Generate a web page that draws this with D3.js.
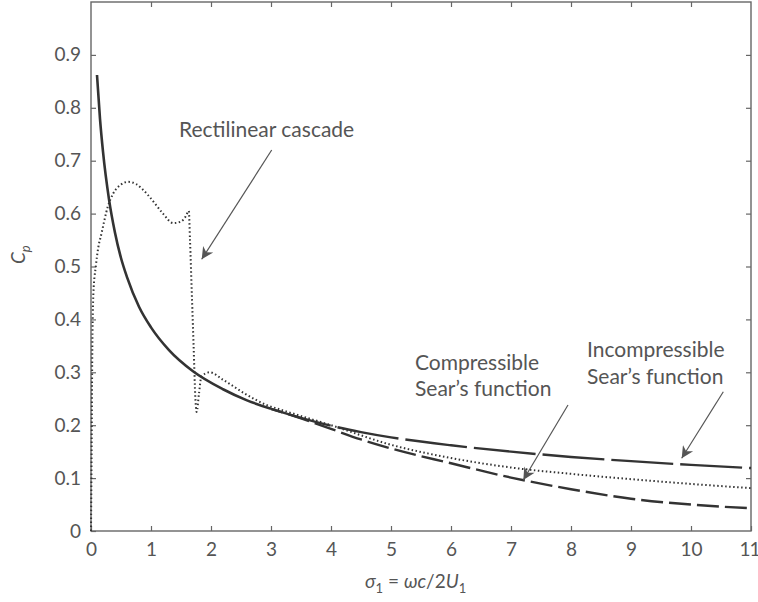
<!DOCTYPE html>
<html>
<head>
<meta charset="utf-8">
<script src="https://cdn.jsdelivr.net/npm/d3@7"></script>
<style>
  html, body { margin: 0; padding: 0; background: #fff; }
  svg { display: block; }
  .tick text { font-family: Lato, "Open Sans", sans-serif; font-size: 19px; fill: #555; }
  .ann { font-family: Lato, "Open Sans", sans-serif; font-size: 21px; fill: #555; }
  .axt { font-family: Lato, "Open Sans", sans-serif; font-size: 19px; fill: #555; }
</style>
</head>
<body>
<svg id="chart" width="758" height="602"></svg>
<script>
// Pressure coefficient response vs reduced frequency
const xTicks = [0, 1, 2, 3, 4, 5, 6, 7, 8, 9, 10, 11];
const yTicks = [0, 0.1, 0.2, 0.3, 0.4, 0.5, 0.6, 0.7, 0.8, 0.9];

// Incompressible Sears function (long dashes)
const incompX = [0.1, 0.15, 0.2, 0.3, 0.4, 0.5, 0.6, 0.8, 1.0, 1.3, 1.7, 2.2, 2.6, 3.0, 3.5, 4.0, 4.5, 5.0, 6.0, 7.0, 8.0, 9.0, 10.0, 11.0];
const incompY = [0.862, 0.779, 0.717, 0.627, 0.564, 0.516, 0.480, 0.424, 0.385, 0.342, 0.302, 0.268, 0.247, 0.231, 0.214, 0.199, 0.187, 0.177, 0.162, 0.150, 0.140, 0.132, 0.125, 0.119];

// Compressible Sears function (short dashes)
const compX = [0.1, 0.15, 0.2, 0.3, 0.4, 0.5, 0.6, 0.8, 1.0, 1.3, 1.7, 2.2, 2.6, 3.0, 3.5, 4.0, 4.5, 5.0, 6.0, 7.0, 8.0, 9.0, 10.0, 11.0];
const compY = [0.862, 0.779, 0.717, 0.627, 0.564, 0.516, 0.480, 0.424, 0.385, 0.342, 0.302, 0.268, 0.247, 0.231, 0.213, 0.193, 0.173, 0.156, 0.128, 0.101, 0.079, 0.061, 0.050, 0.043];

// Rectilinear cascade (dotted)
const cascX = [0.0, 0.01, 0.02, 0.04, 0.08, 0.12, 0.17, 0.28, 0.37, 0.5, 0.62, 0.75, 0.84, 0.95, 1.06, 1.2, 1.37, 1.5, 1.58, 1.63, 1.65, 1.68, 1.71, 1.74, 1.76, 1.8, 1.84, 1.98, 2.2, 2.56, 2.93, 3.2, 4.0, 5.0, 6.0, 7.0, 8.0, 9.0, 10.0, 11.0];
const cascY = [0.0, 0.15, 0.32, 0.45, 0.50, 0.535, 0.56, 0.613, 0.638, 0.655, 0.66, 0.656, 0.648, 0.635, 0.62, 0.60, 0.582, 0.585, 0.595, 0.605, 0.55, 0.45, 0.35, 0.25, 0.225, 0.26, 0.292, 0.30, 0.286, 0.26, 0.238, 0.228, 0.200, 0.163, 0.138, 0.120, 0.108, 0.098, 0.089, 0.081];

const svg = d3.select("#chart");
const plotL = 91, plotR = 751, plotT = 2, plotB = 531;

const x = d3.scaleLinear().domain([0, 11]).range([plotL, plotR]);
const y = d3.scaleLinear().domain([0, 1]).range([plotB, plotT]);

const axisColor = "#666";
const lineColor = "#333";

// Frame
svg.append("rect")
  .attr("x", plotL).attr("y", plotT)
  .attr("width", plotR - plotL).attr("height", plotB - plotT)
  .attr("fill", "none").attr("stroke", axisColor).attr("stroke-width", 1.4);

const fmtY = d => d === 0 ? "0" : d3.format(".1f")(d);

function styleAxis(g) {
  g.select(".domain").remove();
  g.selectAll(".tick line").attr("stroke", axisColor).attr("stroke-width", 1.2);
}

// Bottom axis with inward ticks
const gx = svg.append("g").attr("transform", `translate(0,${plotB})`)
  .call(d3.axisBottom(x).tickValues(xTicks).tickFormat(d3.format("d")).tickSizeInner(-5).tickSizeOuter(0).tickPadding(12))
  .call(styleAxis);
// last label sits flush against the right edge of the frame
gx.selectAll(".tick text").filter(d => d === 11)
  .attr("text-anchor", "end").attr("dx", 8).attr("letter-spacing", -1);
// Top axis: ticks only
svg.append("g").attr("transform", `translate(0,${plotT})`)
  .call(d3.axisTop(x).tickValues(xTicks.slice(1, -1)).tickFormat("").tickSizeInner(-5).tickSizeOuter(0))
  .call(styleAxis);
// Left axis
svg.append("g").attr("transform", `translate(${plotL},0)`)
  .call(d3.axisLeft(y).tickValues(yTicks).tickFormat(fmtY).tickSizeInner(-5).tickSizeOuter(0).tickPadding(10))
  .call(styleAxis);
// Right axis: ticks only
svg.append("g").attr("transform", `translate(${plotR},0)`)
  .call(d3.axisRight(y).tickValues(yTicks.slice(1)).tickFormat("").tickSizeInner(-5).tickSizeOuter(0))
  .call(styleAxis);

const line = d3.line().x(d => x(d[0])).y(d => y(d[1])).curve(d3.curveMonotoneX);
const zip = (a, b) => a.map((v, i) => [v, b[i]]);

const incomp = zip(incompX, incompY);
const comp = zip(compX, compY);

// Where the two Sears curves coincide they read as one solid line
const nShared = incompY.findIndex((v, i) => v !== compY[i]);
svg.append("path").datum(incomp.slice(0, nShared))
  .attr("d", line).attr("fill", "none").attr("stroke", lineColor)
  .attr("stroke-width", 2.6);

svg.append("path").datum(incomp.slice(nShared - 1))
  .attr("d", line).attr("fill", "none").attr("stroke", lineColor)
  .attr("stroke-width", 2.4).attr("stroke-dasharray", "62,7");

svg.append("path").datum(comp.slice(nShared - 1))
  .attr("d", line).attr("fill", "none").attr("stroke", lineColor)
  .attr("stroke-width", 2.4).attr("stroke-dasharray", "22,6").attr("stroke-dashoffset", 10);

svg.append("path").datum(zip(cascX, cascY))
  .attr("d", line).attr("fill", "none").attr("stroke", lineColor)
  .attr("stroke-width", 2).attr("stroke-dasharray", "1.5,2.5");

// Arrow marker
svg.append("defs").append("marker")
  .attr("id", "arrow").attr("viewBox", "0 0 10 10")
  .attr("refX", 10).attr("refY", 5)
  .attr("markerWidth", 16).attr("markerHeight", 12)
  .attr("markerUnits", "userSpaceOnUse")
  .attr("orient", "auto")
  .append("path").attr("d", "M0,0 L10,5 L0,10 L3,5 Z").attr("fill", "#555");

const arrows = [
  { x1: 271.7, y1: 150, x2: 201.7, y2: 259.3 },
  { x1: 568, y1: 405, x2: 523.3, y2: 480 },
  { x1: 723.3, y1: 391.7, x2: 681.7, y2: 458.3 }
];
svg.selectAll(".arr").data(arrows).join("line")
  .attr("x1", d => d.x1).attr("y1", d => d.y1)
  .attr("x2", d => d.x2).attr("y2", d => d.y2)
  .attr("stroke", "#555").attr("stroke-width", 1.2)
  .attr("marker-end", "url(#arrow)");

const notes = [
  { t: "Rectilinear cascade", x: 179, y: 137 },
  { t: "Compressible", x: 415, y: 370 },
  { t: "Sear\u2019s function", x: 415, y: 396 },
  { t: "Incompressible", x: 587, y: 357 },
  { t: "Sear\u2019s function", x: 587, y: 384 }
];
svg.selectAll(".ann").data(notes).join("text")
  .attr("class", "ann").attr("x", d => d.x).attr("y", d => d.y).text(d => d.t);

// Axis titles
const xt = svg.append("text").attr("class", "axt").attr("x", 365).attr("y", 588);
xt.append("tspan").attr("font-style", "italic").text("\u03c3");
xt.append("tspan").attr("font-size", 13).attr("dy", 5).text("1");
xt.append("tspan").attr("dy", -5).text(" = ");
xt.append("tspan").attr("font-style", "italic").text("\u03c9c");
xt.append("tspan").text("/2");
xt.append("tspan").attr("font-style", "italic").text("U");
xt.append("tspan").attr("font-size", 13).attr("dy", 5).text("1");

const yt = svg.append("text").attr("class", "axt")
  .attr("transform", "translate(25,264) rotate(-90)");
yt.append("tspan").attr("font-style", "italic").text("C");
yt.append("tspan").attr("font-style", "italic").attr("font-size", 13).attr("dy", 5).text("p");
</script>
</body>
</html>
